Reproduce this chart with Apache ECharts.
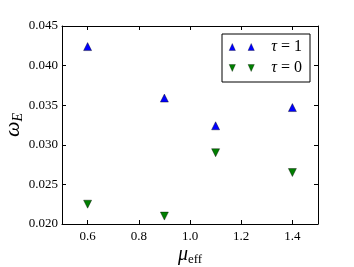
<!DOCTYPE html>
<html><head><meta charset="utf-8">
<script src="https://cdn.jsdelivr.net/npm/echarts@6/dist/echarts.min.js"></script>
<style>html,body{margin:0;padding:0;background:#fff}#c{width:354px;height:267px}</style>
</head><body><div id="c"></div>
<script>
const muEff = [0.6, 0.9, 1.1, 1.4];
const tau1 = [0.0424, 0.0359, 0.0324, 0.0347];
const tau0 = [0.0225, 0.0210, 0.0290, 0.0265];
const seriesNames = ['τ = 1', 'τ = 0'];
const xTicks = [0.6, 0.8, 1.0, 1.2, 1.4];
const yTicks = [0.020, 0.025, 0.030, 0.035, 0.040, 0.045];

const FONT = 'Liberation Serif';
const chart = echarts.init(document.getElementById('c'), null, {renderer: 'canvas'});
const axLine = {show: true, onZero: false, lineStyle: {color: '#000', width: 1}};
const xTick = {show: true, inside: true, length: 4, lineStyle: {color: '#000'}, customValues: xTicks};
const yTick = {show: true, inside: true, length: 4, lineStyle: {color: '#000'}, customValues: yTicks};
chart.setOption({
  animation: false,
  grid: {left: 62, right: 36, top: 26, bottom: 43, outerBoundsMode: 'none', containLabel: false},
  legend: {
    orient: 'vertical', left: 222, top: 34,
    backgroundColor: '#fff', borderColor: '#000', borderWidth: 1,
    padding: [5, 8, 6, 7], itemGap: 5,
    itemWidth: 29, itemHeight: 7, symbolRotate: 0,
    data: [
      {name: seriesNames[0], icon: 'path://M0,10 L4.5,0 L9,10 Z M27,10 L31.5,0 L36,10 Z',
       itemStyle: {borderWidth: 0.3}},
      {name: seriesNames[1], icon: 'path://M0,0 L9,0 L4.5,10 Z M27,0 L36,0 L31.5,10 Z',
       itemStyle: {borderWidth: 0.3}}
    ],
    formatter: n => '{i|τ}' + n.slice(1),
    textStyle: {fontFamily: FONT, fontSize: 16, color: '#000', padding: [0, 0, 0, 10],
      rich: {i: {fontFamily: FONT, fontStyle: 'italic', fontSize: 16}}}
  },
  xAxis: [
    {type: 'value', min: 0.5, max: 1.5, position: 'bottom',
      name: '{m|μ}{s|eff}', nameLocation: 'middle', nameGap: 19, nameMoveOverlap: false,
      nameTextStyle: {rich: {
        m: {fontFamily: FONT, fontStyle: 'italic', fontSize: 20, color: '#000'},
        s: {fontFamily: FONT, fontSize: 13, color: '#000', padding: [10, 0, 0, 0]}}},
      axisLine: axLine, axisTick: xTick, splitLine: {show: false},
      axisLabel: {fontFamily: FONT, fontSize: 13, color: '#000', margin: 6,
        customValues: xTicks, formatter: v => v.toFixed(1)}},
    {type: 'value', min: 0.5, max: 1.5, position: 'top',
      axisLine: axLine, axisTick: xTick, splitLine: {show: false}, axisLabel: {show: false}}
  ],
  yAxis: [
    {type: 'value', min: 0.020, max: 0.045, interval: 0.005, position: 'left',
      name: '{w|ω}{s|E}', nameLocation: 'middle', nameGap: 37, nameRotate: 90, nameMoveOverlap: false,
      nameTextStyle: {rich: {
        w: {fontFamily: FONT, fontStyle: 'italic', fontSize: 22, color: '#000'},
        s: {fontFamily: FONT, fontStyle: 'italic', fontSize: 14, color: '#000', padding: [10, 0, 0, 0]}}},
      axisLine: axLine, axisTick: yTick, splitLine: {show: false},
      axisLabel: {fontFamily: FONT, fontSize: 13, color: '#000', margin: 4,
        customValues: yTicks, formatter: v => v.toFixed(3)}},
    {type: 'value', min: 0.020, max: 0.045, interval: 0.005, position: 'right',
      axisLine: axLine, axisTick: yTick, splitLine: {show: false}, axisLabel: {show: false}}
  ],
  series: [
    {name: seriesNames[0], type: 'scatter', symbol: 'triangle', symbolSize: [8, 8],
     itemStyle: {color: '#0000ff', borderColor: '#000', borderWidth: 0.4, opacity: 1},
     data: muEff.map((x, i) => [x, tau1[i]])},
    {name: seriesNames[1], type: 'scatter', symbol: 'triangle', symbolRotate: 180, symbolSize: [8, 8],
     itemStyle: {color: '#007f00', borderColor: '#000', borderWidth: 0.4, opacity: 1},
     data: muEff.map((x, i) => [x, tau0[i]])}
  ]
});
</script></body></html>
